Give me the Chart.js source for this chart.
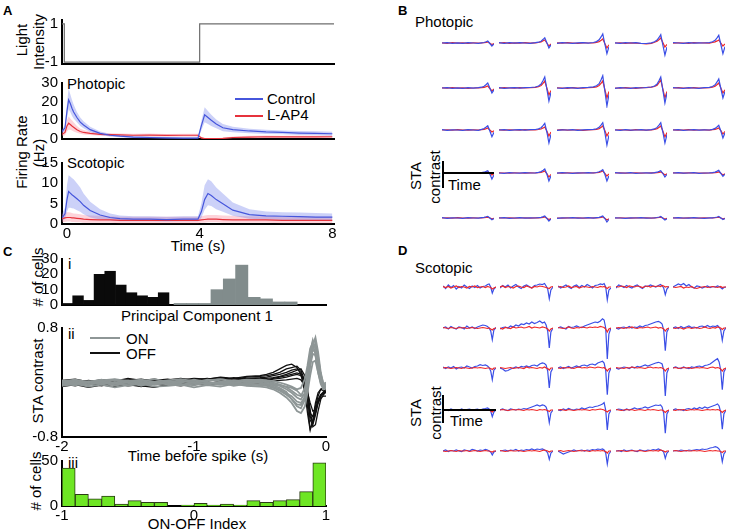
<!DOCTYPE html>
<html lang="en">
<head>
<meta charset="UTF-8">
<title>Firing rate and STA figure</title>
<script src="https://cdn.jsdelivr.net/npm/chart.js@4"></script>
<style>
  body { margin: 0; background: #fff; }
  #fig { position: relative; width: 732px; height: 532px; overflow: hidden;
         font-family: "Liberation Sans", Arial, sans-serif; color: #000; }
  .t { position: absolute; font-size: 15px; line-height: 15px; white-space: nowrap; }
  .b { font-weight: bold; font-size: 13px; }
  .c { transform: translateX(-50%); }
  .rot { transform: translate(-50%, -50%) rotate(-90deg); }
  .key { position: absolute; height: 0; border-top: 2px solid; }
  canvas { position: absolute; }
</style>
</head>
<body>
<div id="fig">
  <!-- panel A -->
  <div class="t b" style="left:3px;top:3px">A</div>
  <div class="t rot" style="left:21px;top:40px">Light</div>
  <div class="t rot" style="left:37.5px;top:42px">Intensity</div>
  <div class="t rot" style="left:21px;top:152px">Firing Rate</div>
  <div class="t rot" style="left:37.5px;top:153px">(Hz)</div>
  <div class="t" style="left:67px;top:76px">Photopic</div>
  <div class="t" style="left:67px;top:155px">Scotopic</div>
  <div class="key" style="left:235px;top:98px;width:28px;border-color:#4656dc"></div>
  <div class="t" style="left:267px;top:91px">Control</div>
  <div class="key" style="left:235px;top:115px;width:28px;border-color:#e6323c"></div>
  <div class="t" style="left:267px;top:107px">L-AP4</div>
  <div class="t c" style="left:198px;top:238px">Time (s)</div>

  <!-- panel C -->
  <div class="t b" style="left:3px;top:244px">C</div>
  <div class="t rot" style="left:37px;top:277px"># of cells</div>
  <div class="t" style="left:68px;top:256px">i</div>
  <div class="t c" style="left:197px;top:308px">Principal Component 1</div>
  <div class="t" style="left:68px;top:326px">ii</div>
  <div class="key" style="left:90px;top:337px;width:30px;border-color:#8e9696"></div>
  <div class="t" style="left:126px;top:331px">ON</div>
  <div class="key" style="left:90px;top:352px;width:30px;border-color:#111"></div>
  <div class="t" style="left:126px;top:346px">OFF</div>
  <div class="t rot" style="left:37px;top:381px">STA contrast</div>
  <div class="t c" style="left:198px;top:448px">Time before spike (s)</div>
  <div class="t" style="left:68px;top:455px">iii</div>
  <div class="t rot" style="left:35px;top:481px"># of cells</div>
  <div class="t c" style="left:197px;top:516px">ON-OFF Index</div>

  <!-- panel B -->
  <div class="t b" style="left:398px;top:3px">B</div>
  <div class="t" style="left:415px;top:14px">Photopic</div>
  <div class="t rot" style="left:415px;top:176px">STA</div>
  <div class="t rot" style="left:434px;top:177px">contrast</div>
  <div class="t" style="left:448px;top:177px">Time</div>

  <!-- panel D -->
  <div class="t b" style="left:398px;top:243px">D</div>
  <div class="t" style="left:415px;top:260px">Scotopic</div>
  <div class="t rot" style="left:415px;top:413px">STA</div>
  <div class="t rot" style="left:435px;top:413px">contrast</div>
  <div class="t" style="left:450px;top:413px">Time</div>
</div>

<script>
// ---------- A: light step and firing rates ----------
const lightT = [-0.15, -0.08, 4, 8.05];
const lightI = [1, -1, 1, 1];
const lightTicks = [-1, 1];

const tA = [-0.15, -0.06, 0, 0.05, 0.1, 0.15, 0.2, 0.3, 0.4, 0.5, 0.7, 1.0, 1.3, 1.6, 2.0, 2.5,
            3.0, 3.5, 3.95, 4.05, 4.15, 4.25, 4.35, 4.5, 4.7, 5.0, 5.5, 6.0, 6.5, 7.0, 7.5, 8.0];
const timeTicks = [0, 4, 8];
const phoTicks = [0, 10, 20, 30];
const scoTicks = [0, 5, 10, 15];

const ctrlPho   = [4, 6, 15, 21, 19, 16.5, 14.5, 11.5, 9, 7.5, 5, 3, 2, 1.5, 1, 0.8, 0.6, 0.5, 0.5, 7, 13, 11.5, 10, 8, 6, 5, 4.3, 3.8, 3.5, 3.2, 3.0, 2.8];
const ctrlPhoUp = [5, 7.5, 19, 27, 24, 21, 18.5, 14.5, 11.5, 9.5, 6.5, 4, 2.8, 2.2, 1.6, 1.3, 1.1, 1, 1, 9.5, 17, 15, 13, 10.5, 8, 6.5, 5.5, 5, 4.6, 4.3, 4.1, 3.9];
const ctrlPhoLo = [3, 4.5, 11, 16, 14.5, 12.5, 11, 9, 7, 5.8, 3.8, 2.1, 1.3, 0.9, 0.5, 0.3, 0.2, 0.1, 0.1, 4.5, 9, 8, 7, 5.7, 4.2, 3.6, 3.1, 2.7, 2.5, 2.2, 2, 1.8];
const lap4Pho   = [2.5, 3.5, 7, 8.5, 7.8, 7, 6.3, 5, 4, 3.5, 3, 2.5, 2.3, 2.2, 2, 2.1, 1.9, 2, 2, 0.6, 0.2, 0.2, 0.2, 0.2, 0.3, 0.8, 1, 1.2, 1.1, 1.2, 1.1, 1.2];
const lap4PhoUp = [3.5, 5, 10, 12, 11, 10, 9, 7, 5.5, 4.8, 4, 3.4, 3.1, 3, 2.8, 2.9, 2.7, 2.8, 2.8, 1.2, 0.6, 0.6, 0.6, 0.6, 0.7, 1.4, 1.7, 1.9, 1.8, 1.9, 1.8, 1.9];
const lap4PhoLo = [1.5, 2, 4, 5, 5, 4.5, 4, 3.3, 2.8, 2.4, 2.1, 1.7, 1.5, 1.4, 1.3, 1.3, 1.2, 1.2, 1.2, 0.1, 0, 0, 0, 0, 0, 0.3, 0.4, 0.5, 0.5, 0.5, 0.5, 0.5];

const ctrlSco   = [1.5, 2.5, 6, 8, 7.6, 7.2, 6.9, 6.2, 5.5, 4.6, 3.3, 2.2, 1.6, 1.3, 1.2, 1.2, 1.1, 1.2, 1.2, 3, 6, 7.5, 7, 6, 5, 3.4, 2.3, 2, 1.9, 1.8, 1.7, 1.7];
const ctrlScoUp = [2.5, 4, 9.5, 12, 11.7, 11.3, 11, 10, 9, 7.5, 5.5, 3.6, 2.6, 2.1, 1.9, 1.9, 1.8, 1.9, 1.9, 5, 9.5, 11, 10.5, 9, 7.5, 5.3, 3.6, 3.1, 2.9, 2.8, 2.7, 2.6];
const ctrlScoLo = [0.8, 1.2, 3, 4, 4, 3.9, 3.8, 3.4, 3, 2.4, 1.6, 1.1, 0.9, 0.7, 0.7, 0.7, 0.6, 0.7, 0.7, 1.5, 3.5, 4.6, 4.4, 3.6, 3, 2, 1.3, 1.1, 1, 1, 0.9, 0.9];
const lap4Sco   = [1.3, 1.5, 1.6, 1.6, 1.6, 1.5, 1.5, 1.4, 1.3, 1.2, 1.1, 1, 1, 0.9, 0.9, 0.9, 0.9, 0.9, 0.9, 1, 1.1, 1.2, 1.2, 1.2, 1.1, 1, 1, 1, 0.9, 0.9, 0.9, 0.9];
const lap4ScoUp = [2.4, 2.7, 2.9, 2.9, 2.8, 2.7, 2.6, 2.5, 2.4, 2.2, 2.1, 2, 1.9, 1.8, 1.8, 1.8, 1.8, 1.8, 1.8, 1.9, 2.1, 2.2, 2.2, 2.2, 2.1, 2, 1.9, 1.9, 1.8, 1.8, 1.8, 1.8];
const lap4ScoLo = [0.4, 0.5, 0.6, 0.6, 0.6, 0.5, 0.5, 0.4, 0.4, 0.3, 0.3, 0.3, 0.3, 0.2, 0.2, 0.2, 0.2, 0.2, 0.2, 0.3, 0.3, 0.4, 0.4, 0.4, 0.3, 0.3, 0.3, 0.3, 0.2, 0.2, 0.2, 0.2];

// ---------- C i: PC1 histogram ----------
const pcTicks = [0, 10, 20, 30];
const pcOffX = [-2.878, -2.635, -2.392, -2.149, -1.906, -1.663, -1.42, -1.177, -0.934, -0.691];
const pcOffN = [1, 6, 3, 20, 22, 13, 8, 6, 5, 8];
const pcOnX  = [-0.315, -0.035, 0.245, 0.525, 0.805, 1.085, 1.365, 1.645, 1.925, 2.205];
const pcOnN  = [1, 1, 1, 10, 17, 26, 5, 4, 2, 2];

// ---------- C ii: STAs of ON and OFF cells ----------
const lagTicks = [-2, -1, 0];
const staTicks = [-0.8, 0.8];
const lagT = [-2, -1.9, -1.8, -1.7, -1.6, -1.5, -1.4, -1.3, -1.2, -1.1, -1, -0.9, -0.8, -0.7, -0.6, -0.5,
              -0.45, -0.4, -0.35, -0.3, -0.26, -0.22, -0.19, -0.16, -0.14, -0.12, -0.1, -0.08, -0.06, -0.04, -0.02, 0];
const onSta = [
  [0.01,-0.02,0.02,-0.01,0,0.03,-0.02,0.01,-0.03,0.02,0,-0.02,0.01,-0.01,0.02,-0.01, -0.02,-0.03,-0.05,-0.1,-0.15,-0.22,-0.25,-0.15,0.1,0.45,0.62,0.5,0.25,0.05,-0.05,-0.03],
  [-0.03,0.01,-0.04,0.02,-0.02,0,-0.05,0.01,-0.02,-0.04,0.01,-0.03,0,-0.05,-0.02,0.01, -0.03,-0.04,-0.08,-0.14,-0.25,-0.35,-0.38,-0.25,-0.05,0.25,0.42,0.4,0.2,0.02,-0.08,-0.05],
  [0.03,0,0.01,0.04,-0.01,0.02,0.03,-0.02,0.02,0,0.04,0.01,-0.02,0.03,0,0.02, 0,-0.02,-0.04,-0.06,-0.08,-0.12,-0.18,-0.2,-0.05,0.25,0.55,0.66,0.45,0.15,-0.02,0],
  [-0.05,-0.02,-0.06,-0.03,-0.07,-0.04,-0.02,-0.06,-0.05,-0.03,-0.07,-0.04,-0.06,-0.02,-0.05,-0.06, -0.07,-0.1,-0.15,-0.22,-0.3,-0.42,-0.45,-0.35,-0.15,0.1,0.3,0.32,0.15,-0.02,-0.1,-0.08],
  [0,0.03,-0.01,0.02,0.04,0,0.02,0.05,0.01,0.03,-0.01,0.04,0.02,0,0.03,0.04, 0.03,0.02,0,-0.03,-0.06,-0.1,-0.08,0.05,0.25,0.5,0.58,0.4,0.15,0,-0.04,-0.02],
  [-0.02,-0.04,0,-0.03,0.01,-0.05,-0.01,-0.03,0,-0.02,-0.04,0,-0.03,-0.01,-0.04,-0.03, -0.04,-0.06,-0.1,-0.16,-0.2,-0.28,-0.3,-0.22,0,0.3,0.5,0.55,0.35,0.1,-0.06,-0.1],
  [0.02,0.04,0.01,0.03,0.05,0.02,0.04,0.01,0.03,0.05,0.02,0.03,0.05,0.02,0.04,0.03, 0.02,0,-0.03,-0.07,-0.12,-0.18,-0.2,-0.08,0.15,0.4,0.6,0.6,0.38,0.12,-0.02,-0.04],
  [-0.04,-0.01,-0.03,0,-0.04,-0.02,0.01,-0.03,-0.01,-0.04,-0.02,-0.01,-0.03,0,-0.02,-0.04, -0.05,-0.08,-0.12,-0.18,-0.24,-0.32,-0.33,-0.2,0.05,0.35,0.48,0.45,0.28,0.06,-0.08,-0.07]
];
const offSta = [
  [0,-0.03,0.02,-0.01,0.03,-0.02,0.01,0,0.03,0.01,0.04,0.02,0.05,0.03,0.06,0.07, 0.08,0.1,0.12,0.15,0.18,0.2,0.15,-0.05,-0.35,-0.68,-0.6,-0.4,-0.25,-0.18,-0.15,-0.12],
  [-0.04,0,-0.02,-0.05,-0.01,-0.03,-0.06,-0.02,-0.04,-0.01,-0.03,0,-0.02,0.01,0,0.02, 0.03,0.05,0.06,0.08,0.1,0.12,0.1,0,-0.2,-0.45,-0.5,-0.35,-0.2,-0.1,-0.08,-0.06],
  [0.03,0.05,0.01,0.04,0.02,0.06,0.03,0.05,0.02,0.04,0.06,0.05,0.08,0.06,0.09,0.1, 0.12,0.15,0.2,0.25,0.27,0.22,0.12,-0.15,-0.45,-0.7,-0.55,-0.3,-0.15,-0.1,-0.12,-0.15],
  [-0.06,-0.03,-0.07,-0.04,-0.06,-0.02,-0.05,-0.07,-0.03,-0.05,-0.02,-0.04,-0.01,-0.03,0,-0.01, 0,0.02,0.03,0.04,0.05,0.06,0.04,-0.05,-0.15,-0.3,-0.42,-0.4,-0.3,-0.22,-0.2,-0.2],
  [0.02,-0.01,0.03,0,0.02,0.04,0.01,0.03,0.05,0.02,0.04,0.06,0.03,0.07,0.05,0.06, 0.06,0.07,0.09,0.12,0.15,0.18,0.2,0.1,-0.1,-0.4,-0.65,-0.62,-0.42,-0.25,-0.18,-0.14],
  [0.01,0.03,-0.01,0.02,0,0.03,0.05,0.02,0.04,0.06,0.03,0.05,0.07,0.05,0.08,0.09, 0.1,0.12,0.15,0.2,0.22,0.24,0.18,0.02,-0.25,-0.55,-0.62,-0.48,-0.3,-0.2,-0.16,-0.13],
  [-0.02,-0.05,-0.01,-0.04,-0.02,-0.05,-0.03,0,-0.03,-0.01,0.01,-0.02,0.02,0,0.03,0.04, 0.04,0.06,0.08,0.1,0.12,0.14,0.12,0.02,-0.2,-0.5,-0.58,-0.45,-0.28,-0.18,-0.14,-0.1]
];

// ---------- C iii: ON-OFF index histogram ----------
const oiTicks = [-1, 0, 1];
const oiCountTicks = [0, 50];
const oiX = [-0.95, -0.85, -0.75, -0.65, -0.55, -0.45, -0.35, -0.25, -0.15, -0.05,
             0.05, 0.15, 0.25, 0.35, 0.45, 0.55, 0.65, 0.75, 0.85, 0.95];
const oiN = [42, 13, 8, 11, 2, 6, 4, 4, 0, 1, 3, 1, 2, 1, 6, 4, 6, 7, 16, 48];

// ---------- B: photopic STAs, 5x5 cells (control blue, L-AP4 red) ----------
const lagB = [0, 0.1, 0.2, 0.3, 0.4, 0.5, 0.6, 0.7, 0.76, 0.81, 0.85, 0.88, 0.92, 0.96, 1.0];
const phoCtrl = [
  [0,0.4,-0.3,0.2,-0.4,0.3,0,-0.3,0.2,0.5,1.2,2,-0.5,-3,-1],
  [0.3,-0.3,0.4,-0.2,0.3,0,-0.4,0.3,0.8,1.8,3.7,5.3,0.2,-5,-1.8],
  [-0.3,0.3,0,-0.4,0.2,0.4,-0.2,0.5,1.4,3.2,6.3,9,-1,-10.7,-3.7],
  [0.2,-0.4,0.3,0,0.3,-0.3,-0.5,0.2,1.2,2.9,5.8,8.3,-2,-12,-4],
  [0.3,0,-0.3,0.4,-0.2,0.2,0,0.4,1.2,2.7,5.4,7.7,-1.5,-10.7,-3.7],
  [0,0.3,-0.3,0.2,-0.4,0.3,-0.2,0.3,0.8,1.8,3.5,5,0,-5,-1.8],
  [0.3,-0.3,0.2,0.4,-0.2,0.3,0.5,1,2,3.9,7.7,11,-1,-13,-4.5],
  [0,-0.3,0.3,0.2,-0.3,0.4,0.6,1.2,2.2,4.3,8.6,12.3,-3,-18,-6.3],
  [-0.3,0.3,0,-0.3,0.3,0,0.5,1,2,3.9,7.7,11,-2,-15,-5.2],
  [0.3,0,-0.3,0.3,0,-0.3,0.3,0.6,1.5,3.2,6.3,9,-0.5,-10,-3.5],
  [0.3,-0.3,0.2,0,-0.3,0.3,0,-0.3,0.6,1.5,3,4.3,-1,-6.7,-2.3],
  [0,0.3,-0.3,0.2,0.3,-0.2,0.3,0.5,1.1,2.3,4.7,6.7,-2,-13,-4.5],
  [-0.3,0.2,0,0.3,-0.3,0.2,0.4,0.6,1.2,2.6,5.1,7.3,-2.5,-15,-5.2],
  [0.2,-0.3,0.3,-0.2,0,0.3,-0.2,0.4,1.1,2.6,5.1,7.3,-2,-13,-4.5],
  [0,0.3,-0.3,0,0.3,-0.2,0.2,0,0.7,1.6,3.3,4.7,-1,-8,-2.8],
  [0.3,0,-0.3,0.2,0,-0.3,0.3,0,0.4,0.8,1.6,2.3,-1,-6,-2.1],
  [0,-0.3,0.3,0,-0.2,0.3,0,0.2,0.6,1.4,2.8,4,-1,-8,-2.8],
  [-0.2,0.3,0,-0.3,0.2,0,0.3,0,0.5,1.2,2.3,3.3,-1.2,-8,-2.8],
  [0.3,-0.2,0,0.3,-0.3,0,0.2,-0.2,0.3,0.8,1.6,2.3,-0.5,-4,-1.4],
  [0,0.3,-0.2,0,0.3,-0.3,0,0.2,0.4,0.9,1.9,2.7,-0.3,-3.3,-1.2],
  [0.3,-0.3,0.2,0,-0.3,0.3,0,-0.2,0.3,0.6,1.2,1.7,0,-1.7,-0.6],
  [0,0.3,-0.3,0,0.3,-0.2,0.2,0,0.3,0.7,1.4,2,-0.3,-3,-1],
  [-0.3,0.2,0,0.3,-0.2,0,0.3,-0.2,0.3,0.7,1.4,2,-0.5,-4,-1.4],
  [0.2,0,-0.3,0.2,0,0.3,-0.2,0,0.2,0.5,1,1.5,-0.2,-2,-0.7],
  [0,0.3,0,-0.2,0.3,0,-0.3,0.2,0.2,0.5,1,1.5,0,-1.5,-0.5]
];
const phoLap4 = [
  [0.2,-0.3,0.3,-0.2,0.2,-0.3,0.2,0,0.1,0.3,0.7,1,-0.2,-1.5,-0.5],
  [0,0.3,-0.3,0.2,-0.2,0.3,-0.2,0.2,0.5,1.1,2.2,3,0,-3,-1],
  [0.2,-0.2,0.3,0,-0.3,0.2,0,0.2,0.6,1.4,2.8,4,-0.5,-5,-1.7],
  [0,0.2,-0.3,0.2,-0.2,-0.5,-0.8,-0.3,0.7,1.8,3.5,5,0.5,-4,-1.4],
  [-0.2,0.2,0,-0.3,0.3,0,0.2,-0.2,0.5,1.1,2.1,3,0,-3,-1],
  [0.2,-0.2,0.3,-0.1,0.2,-0.3,0,0.2,0.3,0.7,1.4,2,-0.5,-3,-1],
  [-0.2,0.3,0,-0.2,0.3,0,0.3,0.7,1.3,2.5,4.9,7,0,-7,-2.5],
  [0.2,0,-0.3,0.3,0,-0.2,0.3,0.7,1.2,2.5,4.9,7,-1.5,-10,-3.5],
  [0,-0.2,0.3,0,-0.3,0.3,0.4,0.8,1.5,2.8,5.6,8,-1,-10,-3.5],
  [0,0.3,0,-0.2,0.3,0,0,0.4,0.8,1.8,3.5,5,0,-5,-1.8],
  [0,0.2,-0.2,0.3,0,-0.2,0.2,0,0.3,0.7,1.4,2,0,-2,-0.7],
  [0.2,-0.2,0.2,0,-0.2,0.3,0,0.2,0.5,1,2.1,3,-1,-6,-2.1],
  [0,0.3,-0.2,0,0.2,-0.3,0.2,0.3,0.6,1.4,2.8,4,-0.5,-6,-2.1],
  [0,0.2,0,-0.3,0.3,0,-0.2,0.2,0.6,1.4,2.8,4,-1,-7,-2.5],
  [0.2,-0.2,0,0.3,-0.2,0,0.2,-0.2,0.3,0.7,1.4,2,-0.5,-4,-1.4],
  [0,0.2,0,-0.2,0.2,0,-0.2,0.2,0.2,0.4,0.7,1,-0.3,-2,-0.7],
  [0.2,0,-0.2,0.2,0,-0.2,0.2,0,0.3,0.7,1.4,2,-0.5,-4,-1.4],
  [0,-0.2,0.2,0,-0.2,0.2,0,0.2,0.3,0.7,1.4,2,-0.3,-3,-1],
  [0,0.2,-0.2,0,0.2,-0.2,0,0.2,0.2,0.4,0.7,1,-0.3,-2,-0.7],
  [0.2,0,-0.2,0.2,0,0,-0.2,0,0.2,0.4,0.7,1,-0.3,-2,-0.7],
  [0,0.2,-0.2,0.3,0,-0.2,0.2,0,0.1,0.3,0.6,0.8,0,-0.8,-0.3],
  [0.2,0,0.2,-0.2,0,0.2,-0.2,0.2,0.2,0.4,0.7,1,-0.2,-1.5,-0.5],
  [0,-0.2,0.2,0,0.2,-0.2,0,0.2,0.2,0.4,0.7,1,-0.3,-2,-0.7],
  [0,0.2,0,-0.2,0.2,0,0.2,-0.2,0.1,0.3,0.5,0.8,0,-1,-0.3],
  [0.2,0,-0.2,0.2,0,-0.2,0.2,0,0.1,0.3,0.5,0.8,0,-0.8,-0.3]
];

// ---------- D: scotopic STAs, 5x5 cells ----------
const lagD = [0, 0.05, 0.1, 0.15, 0.2, 0.25, 0.3, 0.35, 0.4, 0.45, 0.5, 0.55, 0.6, 0.65, 0.7, 0.75, 0.8,
              0.84, 0.87, 0.9, 0.93, 0.96, 1.0];
const scoCtrl = [
  [1,-1.5,2,-0.5,1.5,-2,0.5,-1,2,0,-1.5,1,-0.5,1.5,-1,0.5,1, 2.5,3,0,-6,-2,0],
  [-1,1.5,0,2,-1,1,2.5,0,-1.5,1,2,0.5,-1,1.5,2,3,2.5, 3.5,1,-2,-11.7,-3,0],
  [1,-1,0.5,2,0,-1.5,1,2,-0.5,1.5,0,2.5,1,-1,1.5,2,3, 2.5,3.5,0,-12.7,-3,-1],
  [-1,2,1,-0.5,1.5,0,-1,1,2,0,-1.5,1,0.5,2,1,0,1.5, 2.5,1,-1,-7.7,-2,0.5],
  [0,1.5,3,2,3.5,1,2.5,0,-1,1,0.5,-1,0,1,-0.5,0.5,0, 1,0.5,-0.5,-2,-0.5,0],
  [0,1,-1,1.5,0,-1,1,0.5,-1,2,0,1,-0.5,1,2,3,2.5, 1.5,0,-3,-11.7,-2,0.5],
  [-1,0.5,1,0,2,1,3,2,4,3.5,5,4,6,4.5,5.5,7,5, 6,3,-3,-20,-4,0],
  [0,1,0,-1,1.5,0.5,1,2,1,0.5,2,3,4,5,6,5.5,7, 9.3,8,0,-31,-6,0],
  [0,-1,0.5,1,0,1.5,0,1,0.5,2,1,2.5,3,4,5,6,6.7, 5.5,4,-2,-22.7,-4,0],
  [0,1,-0.5,1.5,0,1,2,0.5,1,0,1.5,2,1,2.5,1,2,1.5, 2.5,1,-2,-12.3,-3,0.5],
  [1,-0.5,1,0,1.5,-1,0.5,1,0,2,1,0,1.5,2,3.3,2.5,3, 2,0.5,-3,-11.7,-2,0],
  [0,-1,-3,-2.5,-1,0,1,0,1.5,1,2,1,2.5,3,2,4,5, 4.5,3,-3,-20,-4,0],
  [0,1,-0.5,0.5,1.5,0,1,2,1,2.5,3,2,3.5,4,3,5,6, 6.7,5,-2,-26.7,-5,0],
  [0,-1,0,1,0.5,-0.5,1,0,1.5,1,2,3,2,3,4,5,5.7, 5,4,-2,-28,-5,0],
  [0,1,0,-0.5,1,0,-0.5,1,0.5,1.5,2,1,2.5,3,4,6,8, 9.3,6,-2,-21.7,-4,0],
  [0,0.5,-0.5,1,0,0.5,-0.5,1,0,0.5,1,0,0.5,1,0,1,1.5, 2,1,-1,-6.7,-2,0],
  [0,1,0,-0.5,1,0.5,0,1,0.5,1.5,1,2,3,4,5,4,5, 4.5,3,-2,-12.7,-3,0],
  [0,-0.5,1,0,1.5,0.5,0,1,0.5,2,1,2,3,2.5,3.5,4,5, 6,7.3,0,-20,-4,0],
  [0,1,0.5,-0.5,1,0,1,2,1,1.5,2,3,2,3,4,5,4.5, 5,3,-3,-23.3,-4,0],
  [0,1,0,0.5,-0.5,1,1.5,0.5,2,1,2.5,1.5,3,2,3,4,5, 6,4,-2,-19.3,-4,0],
  [0,1,-0.5,0.5,0,1,0,-0.5,1,0.5,0,1.5,1,0,1,0.5,1.5, 1,0,-1,-4,-1,0],
  [0,0.5,1,0,1,0.5,1.5,0,1,0.5,1.5,1,2,1,2,1.5,2, 1,0,-2,-8.3,-2,0],
  [0,-1.5,-3,-2,-1,0,1,0,0.5,1,0,1,0.5,1.5,1,2,1.5, 2,1,-2,-13,-3,0],
  [0,0.5,-0.5,1,0,0.5,1,0,-0.5,1,0.5,0,1,0.5,1.5,1,2, 1,0.5,-1,-7.3,-2,0],
  [0,0.5,0,1,0.5,0,1,0.5,1,1.5,1,2,1.5,2,3,3.5,4.3, 3.5,2,-1,-10.7,-3,0]
];
const scoLap4 = [
  [0.5,-0.5,0.5,-1,0,1,-0.5,0.5,0,-1,0.5,0,1,-0.5,0,0.5,-0.5, 0.5,0,-0.5,-2,-1,0],
  [0,1,-0.5,0.5,0,-1,0.5,1,0,-0.5,1,0,-1,0.5,0,1,0.5, 0,-0.5,-1,-1.5,0,0.5],
  [0,0.5,-0.5,0,1,-0.5,0,0.5,-1,0,0.5,0,-0.5,0.5,0,-0.5,0.5, 0,0.5,-0.5,-1.5,0,0],
  [0.5,0,1,0.5,-0.5,1,0.5,0,1,0.5,-0.5,0.5,1,0,1,0.5,1, 0.5,1.5,1,0,0.5,0],
  [0,-0.5,0,0.5,-1,0,-0.5,0.5,-1,-1.5,-0.5,0,0.5,-0.5,0,0.5,0, -0.5,0,0.5,-0.5,0,0],
  [0.5,0,-0.5,0.5,0,-0.5,0.5,0,0.5,-0.5,0,0.5,0,-0.5,0,0.5,0, -0.5,0,-1,-2,-0.5,0],
  [0,-1,0.5,0,-0.5,1,0,0.5,1,0,0.5,1.5,0,1,0.5,0,1, 0.5,0,-1,-3,-1,0],
  [0.5,0,-0.5,0,1,0,-0.5,0.5,0,1,0.5,0,1,0.5,1,0.5,1.5, 1,0.5,-1,-4,-1,0],
  [0,0.5,0,-0.5,0.5,0,1,0,-0.5,0.5,0,0.5,1,0,0.5,1,0, 0.5,0,-1,-3,-1,0],
  [0,-0.5,0.5,0,-1,0,0.5,-0.5,0,0.5,-0.5,0,1,0,-0.5,0.5,0, 1,0.5,0,-1.5,0,0],
  [0,0.5,0,-0.5,0,0.5,0,-0.5,0.5,0,-0.5,0,0.5,0,0.5,0,-0.5, 0,0,-0.5,-1.5,0,0],
  [0.5,0,-0.5,0,0.5,-0.5,0,0.5,0,-0.5,1,0,0.5,0,-0.5,0.5,0, 1,0,-0.5,-2,0,0],
  [0,-0.5,0.5,0,0.5,0,-0.5,0.5,1,0,0.5,0,1,0.5,0,1,0.5, 0,0.5,-1,-3,-1,0],
  [0.5,0,0,-0.5,0.5,0,1,0.5,0,0.5,0,-0.5,0.5,1,0,0.5,0, 0.5,0,-1,-3,-1,0],
  [0,0.5,-0.5,0,0.5,0,0.5,-0.5,0,0.5,0,0.5,0,-0.5,0.5,1,0, 0.5,0,-1,-3,-1,0],
  [0,-0.5,0.5,0,-0.5,0,0.5,0,-0.5,0,0.5,0,-0.5,0,0.5,0,0, -0.5,0,-1,-2,-0.5,0],
  [0,0.5,0,-0.5,0,0.5,0,0.5,0,-0.5,0.5,0,0.5,0,-0.5,0.5,0, 0.5,0,-0.5,-1.5,0,0],
  [0,0.5,0,-0.5,0.5,0,-0.5,0,0.5,0,0.5,0,-0.5,0.5,0,0.5,1, 0.5,0,-1,-2,-0.5,0],
  [0.5,0,-0.5,0,0.5,0,0.5,-0.5,0,0.5,0,-0.5,0.5,0,0.5,0,-0.5, 0,0,-1,-2.5,-1,0],
  [0,-0.5,0.5,0,0.5,-0.5,0,0.5,0,0.5,0,-0.5,0,0.5,0,0.5,0, 0.5,0,-1,-2.5,-1,0],
  [0,-0.5,0,0.5,0,-0.5,0.5,0,0,0.5,-0.5,0,0.5,0,-0.5,0,0.5, 0,0,-0.5,-1,0,0],
  [0.5,0,-0.5,0,0.5,0,0,0.5,0,-0.5,0,0.5,0,0.5,0,-0.5,0.5, 1,0.5,0,-1,0,0],
  [0,0.5,-0.5,0,0.5,0,-0.5,0,0.5,0,0.5,0,-0.5,0.5,0,0.5,0, 0.5,0,-0.5,-2,0,0],
  [0,0,0.5,0,-0.5,0,0.5,0,0,0.5,0,-0.5,0,0.5,0,0.5,0, 1,0.5,0,-1,0,0],
  [0,0.5,0,-0.5,0,0.5,0,0,0.5,0,0.5,0,-0.5,0,0.5,0,0.5, 0,0,-0.5,-1.5,0,0]
];

// ---------- drawing ----------
const BLUE = '#4656dc', BLUE_BAND = 'rgba(110,122,235,0.35)';
const RED = '#e6323c', RED_BAND = 'rgba(250,130,150,0.35)';
const CELL_BLUE = '#3a4ee6', CELL_RED = '#f02828';
const CLEAR = 'rgba(0,0,0,0)';

Chart.defaults.font.family = '"Liberation Sans", Arial, sans-serif';
Chart.defaults.font.size = 15;
Chart.defaults.color = '#000';
Chart.defaults.animation = false;
Chart.defaults.responsive = false;
Chart.defaults.events = [];
Chart.defaults.plugins.legend.display = false;
Chart.defaults.plugins.tooltip.enabled = false;
Chart.defaults.elements.point.radius = 0;
Chart.defaults.elements.line.tension = 0;

const fig = document.getElementById('fig');

function canvasAt(left, top, w, h) {
  const c = document.createElement('canvas');
  c.width = w; c.height = h;
  c.style.left = left + 'px'; c.style.top = top + 'px';
  c.style.width = w + 'px'; c.style.height = h + 'px';
  fig.appendChild(c);
  return c;
}

function pts(xs, ys) {
  return xs.map((x, i) => ({x: x, y: ys[i]}));
}

function lineDs(xs, ys, color, width) {
  return {data: pts(xs, ys), borderColor: color, borderWidth: width, fill: false};
}
// upper edge of a band, filled down to the next dataset
function bandDs(xs, ys, color) {
  return {data: pts(xs, ys), borderColor: CLEAR, borderWidth: 0, fill: '+1', backgroundColor: color};
}
function edgeDs(xs, ys) {
  return {data: pts(xs, ys), borderColor: CLEAR, borderWidth: 0, fill: false};
}

function yAxis(min, max, ticks, width) {
  return {
    min: min, max: max,
    afterFit: s => { s.width = width; },
    afterBuildTicks: s => { s.ticks = ticks.map(v => ({value: v})); },
    grid: {display: false, drawTicks: false},
    border: {display: true, color: '#000', width: 2},
    ticks: {padding: 4, autoSkip: false}
  };
}

function xAxis(min, max, ticks, height) {
  return {
    type: 'linear', min: min, max: max, offset: false,
    afterFit: s => { s.height = height; },
    afterBuildTicks: s => { s.ticks = (ticks || []).map(v => ({value: v})); },
    grid: {display: false, drawTicks: false},
    border: {display: true, color: '#000', width: 2},
    ticks: {display: !!ticks, padding: 1, maxRotation: 0, autoSkip: false}
  };
}

// A: light intensity
new Chart(canvasAt(0, 0, 345, 78), {
  type: 'line',
  data: {datasets: [
    {data: pts(lightT, lightI), borderColor: '#6e6e6e', borderWidth: 1.2, stepped: true, fill: false}
  ]},
  options: {
    layout: {padding: {top: 20, right: 11, left: 0, bottom: 0}},
    scales: {x: xAxis(-0.15, 8.05, null, 14), y: yAxis(-1.1, 1.2, lightTicks, 62)}
  }
});

// A: photopic firing rate
new Chart(canvasAt(0, 70, 345, 82), {
  type: 'line',
  data: {datasets: [
    lineDs(tA, ctrlPho, BLUE, 1.2),
    lineDs(tA, lap4Pho, RED, 1.2),
    bandDs(tA, ctrlPhoUp, BLUE_BAND),
    edgeDs(tA, ctrlPhoLo),
    bandDs(tA, lap4PhoUp, RED_BAND),
    edgeDs(tA, lap4PhoLo)
  ]},
  options: {
    layout: {padding: {top: 13, right: 11, left: 0, bottom: 0}},
    scales: {x: xAxis(-0.15, 8.05, null, 12), y: yAxis(0, 30, phoTicks, 62)}
  }
});

// A: scotopic firing rate
new Chart(canvasAt(0, 150, 345, 96), {
  type: 'line',
  data: {datasets: [
    lineDs(tA, ctrlSco, BLUE, 1.2),
    lineDs(tA, lap4Sco, RED, 1.2),
    bandDs(tA, ctrlScoUp, BLUE_BAND),
    edgeDs(tA, ctrlScoLo),
    bandDs(tA, lap4ScoUp, RED_BAND),
    edgeDs(tA, lap4ScoLo)
  ]},
  options: {
    layout: {padding: {top: 13, right: 11, left: 0, bottom: 0}},
    scales: {x: xAxis(-0.15, 8.05, timeTicks, 22), y: yAxis(0, 15, scoTicks, 62)}
  }
});

// C i: PC1 histogram, OFF black and ON grey
new Chart(canvasAt(0, 246, 345, 72), {
  type: 'bar',
  data: {datasets: [
    {data: pts(pcOffX, pcOffN), backgroundColor: '#0a0a0a', barThickness: 10.7, grouped: false},
    {data: pts(pcOnX, pcOnN), backgroundColor: '#818c8c', barThickness: 12.3, grouped: false}
  ]},
  options: {
    layout: {padding: {top: 12, right: 19, left: 0, bottom: 0}},
    scales: {x: xAxis(-3, 3, null, 12), y: yAxis(0, 30, pcTicks, 62)}
  }
});

// C ii: STA traces (ON grey drawn above OFF black)
const staSets = [];
onSta.forEach(tr => staSets.push(lineDs(lagT, tr, '#8e9696', 1.8)));
offSta.forEach(tr => staSets.push(lineDs(lagT, tr, '#111111', 1.3)));
new Chart(canvasAt(0, 315, 345, 146), {
  type: 'line',
  data: {datasets: staSets},
  options: {
    layout: {padding: {top: 12, right: 19, left: 0, bottom: 0}},
    scales: {x: xAxis(-2, 0, lagTicks, 24), y: yAxis(-0.8, 0.8, staTicks, 62)}
  }
});

// C iii: ON-OFF index histogram
new Chart(canvasAt(0, 448, 345, 80), {
  type: 'bar',
  data: {datasets: [
    {data: pts(oiX, oiN), backgroundColor: '#6ee624', borderColor: '#2b3d14', borderWidth: 1,
     barPercentage: 1, categoryPercentage: 1, grouped: false}
  ]},
  options: {
    layout: {padding: {top: 12, right: 19, left: 0, bottom: 0}},
    scales: {x: xAxis(-1, 1, oiTicks, 22), y: yAxis(0, 50, oiCountTicks, 62)}
  }
});

// B and D: grids of small STA plots
function staCell(left, top, w, h, lag, ctrl, lap4, ymin, ymax, redOnTop) {
  const b = lineDs(lag, ctrl, CELL_BLUE, 1.2);
  const r = lineDs(lag, lap4, CELL_RED, 1.2);
  new Chart(canvasAt(left, top, w, h), {
    type: 'line',
    data: {datasets: redOnTop ? [r, b] : [b, r]},
    options: {
      layout: {padding: 0},
      scales: {
        x: {type: 'linear', display: false, min: 0, max: 1},
        y: {display: false, min: ymin, max: ymax}
      }
    }
  });
}

const bCols = [442, 499, 557, 615, 673], bRows = [43, 88, 130, 173, 218];
const dCols = [443, 500, 558, 616, 673], dRows = [287, 328, 368, 410, 451];
for (let r = 0; r < 5; r++) {
  for (let c = 0; c < 5; c++) {
    staCell(bCols[c], bRows[r] - 14, 52, 34, lagB, phoCtrl[r * 5 + c], phoLap4[r * 5 + c], -20, 14, false);
    staCell(dCols[c], dRows[r] - 11, 53, 44, lagD, scoCtrl[r * 5 + c], scoLap4[r * 5 + c], -33, 11, true);
  }
}

// scale bars (axes only) for B and D
function scaleBar(left, top, w, h, ymin, ymax) {
  new Chart(canvasAt(left, top, w, h), {
    type: 'line',
    data: {datasets: []},
    options: {
      layout: {padding: 0},
      scales: {
        x: {type: 'linear', min: 0, max: 1, position: {y: 0},
            grid: {display: false, drawTicks: false}, ticks: {display: false},
            border: {display: true, color: '#000', width: 2}},
        y: {min: ymin, max: ymax, afterFit: s => { s.width = 1; },
            grid: {display: false, drawTicks: false}, ticks: {display: false},
            border: {display: true, color: '#000', width: 2}}
      }
    }
  });
}
scaleBar(442, 161, 52, 27, -15, 12);
scaleBar(442, 395, 54, 28, -13, 15);
</script>
</body>
</html>
